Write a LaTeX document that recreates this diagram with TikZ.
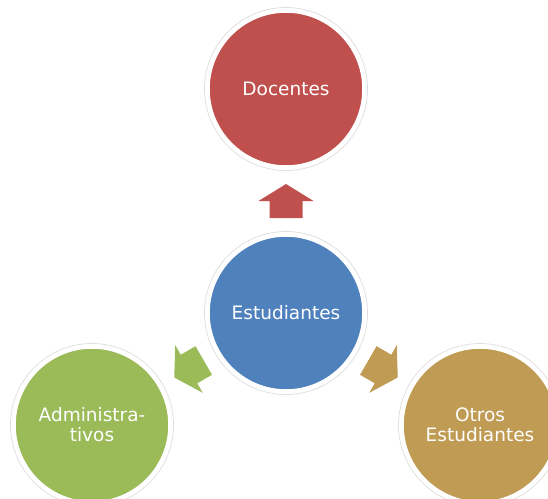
\documentclass[tikz,border=0pt]{standalone}
\usepackage{fontspec}
\setmainfont{DejaVu Sans}
\definecolor{docred}{HTML}{C0504D}
\definecolor{estblue}{HTML}{4F81BD}
\definecolor{admgreen}{HTML}{9BBB59}
\definecolor{otrogold}{HTML}{BF9B53}
\definecolor{ringgray}{HTML}{DEDEDE}
\begin{document}
\begin{tikzpicture}[x=1pt,y=1pt,
  bubble/.style={circle, minimum size=156pt, inner sep=0pt, fill=#1, draw=white, line width=3.5pt,
    text=white, align=center, font=\fontsize{18.5}{20}\selectfont},
  bigarrow/.pic={\fill[pic actions] (17,0) -- (0,27.5) -- (0,16.5) -- (-17,16.5) -- (-17,-16.5) -- (0,-16.5) -- (0,-27.5) -- cycle;}
]
\useasboundingbox (0,0) rectangle (548,-498);
\fill[white] (0,0) rectangle (548,-498);
\node[bubble=estblue] (est) at (286,-313) {Estudiantes};
\node[bubble=docred] (doc) at (286,-89) {Docentes};
\node[bubble=admgreen] (adm) at (92,-425) {Administra-\\tivos};
\node[bubble=otrogold] (otr) at (480,-425) {Otros\\Estudiantes};
\foreach \n in {est,doc,adm,otr}{\draw[ringgray, line width=0.7pt] (\n.center) circle (81.5);}
\path (est) -- (doc) coordinate[pos=0.5] (m1);
\path (est) -- (adm) coordinate[pos=0.5] (m2);
\path (est) -- (otr) coordinate[pos=0.5] (m3);
\pic[rotate=90, fill=docred] at (m1) {bigarrow};
\pic[rotate=210, fill=admgreen] at (m2) {bigarrow};
\pic[rotate=330, fill=otrogold] at (m3) {bigarrow};
\end{tikzpicture}
\end{document}
